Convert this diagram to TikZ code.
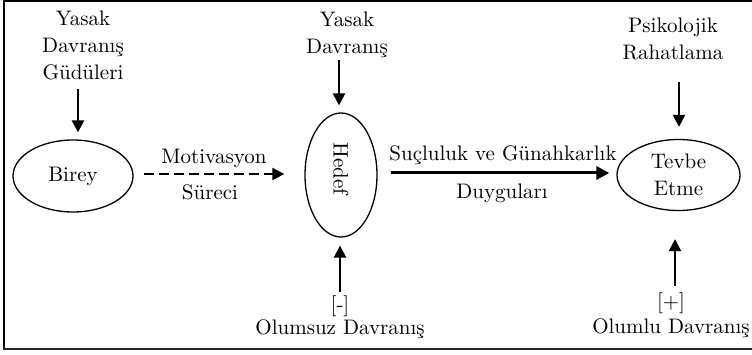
\documentclass[tikz,border=0pt]{standalone}
\usepackage{fontspec}
\setmainfont{lmroman10-regular.otf}
\usetikzlibrary{shapes.geometric,arrows.meta,calc}
\begin{document}
\begin{tikzpicture}[x=1pt,y=-1pt,
  txt/.style={align=center,inner sep=0pt,font=\fontsize{21}{27}\selectfont},
  ell/.style={draw,ellipse,line width=1.3pt,inner sep=0pt},
  arr/.style={line width=2.4pt,-{Triangle[length=12pt,width=12pt]}},
]
\useasboundingbox (0,0) rectangle (752,355);
\draw[line width=1.4pt] (758,1) -- (4,1) -- (4,349);
\draw[line width=2.2pt,black!85] (3.3,349) -- (758,349);

% ellipses
\node[ell,txt,minimum width=120pt,minimum height=72pt] (birey) at (73,176) {Birey};
\node[ell,minimum width=72pt,minimum height=124pt] (hedef) at (341,175) {};
\node[txt,rotate=-90] (hedeft) at (341,169) {Hedef};
\node[ell,txt,minimum width=123pt,minimum height=71pt] (tevbe) at (678.5,175) {Tevbe\\Etme};

% texts
\node[txt] (ydg) at (83,45) {Yasak\\Davranış\\Güdüleri};
\node[txt] (yd) at (347,35) {Yasak\\Davranış};
\node[txt] (psi) at (673,39) {Psikolojik\\Rahatlama};
\node[txt] (mot) at (214,158) {Motivasyon};
\node[txt] (sur) at (210,192) {Süreci};
\node[txt] (suc) at (503,155) {Suçluluk ve Günahkarlık};
\node[txt] (duy) at (502,193) {Duyguları};
\node[txt] (olum) at (340,317) {[-]\\[-4pt]Olumsuz Davranış};
\node[txt] (oluml) at (671,315) {[+]\\[-2pt]Olumlu Davranış};

% connectors
\draw[arr] ($(ydg.south)+(-5,9)$) -- ($(birey.north)+(5,-7)$);
\draw[arr] ($(yd.south)+(-8,2)$) -- ($(hedef.north)+(-2,-7)$);
\draw[arr] ($(psi.south)+(6,22)$) -- ($(tevbe.north)+(0.5,-12)$);
\draw[arr] ($(olum.north)+(0,-3)$) -- ($(hedef.south)+(-1,8)$);
\draw[arr] ($(oluml.north)+(4,-6)$) -- ($(tevbe.south)+(-3.5,28)$);
\draw[line width=2pt,dash pattern=on 10pt off 5pt,-{Triangle[length=12pt,width=12pt]}]
  ($(birey.east)+(10,-2)$) -- ($(hedef.west)+(-20,-1)$);
\draw[line width=3pt,-{Triangle[length=13pt,width=13pt]}]
  ($(hedef.east)+(13,-2)$) -- ($(tevbe.west)+(-7,-2)$);
\end{tikzpicture}
\end{document}
